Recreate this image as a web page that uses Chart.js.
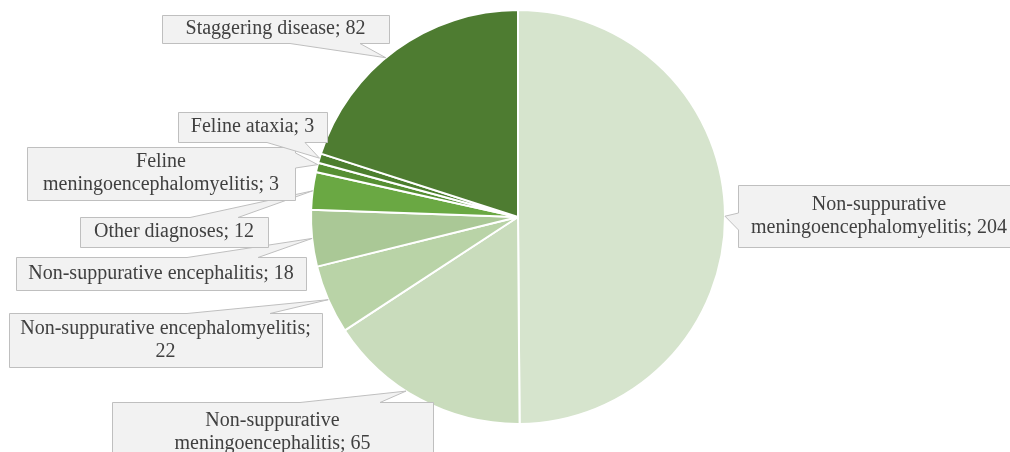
<!DOCTYPE html>
<html>
<head>
<meta charset="utf-8">
<script src="https://cdn.jsdelivr.net/npm/chart.js@4/dist/chart.umd.min.js"></script>
<style>
  html, body { margin: 0; padding: 0; background: #fff; }
  #chart { display: block; }
</style>
</head>
<body>
<canvas id="chart" width="1010" height="452"></canvas>
<script>
// diagnoses, clockwise from 12 o'clock
var labels = [
  "Non-suppurative meningoencephalomyelitis",
  "Non-suppurative meningoencephalitis",
  "Non-suppurative encephalomyelitis",
  "Non-suppurative encephalitis",
  "Other diagnoses",
  "Feline meningoencephalomyelitis",
  "Feline ataxia",
  "Staggering disease"
];
var values = [204, 65, 22, 18, 12, 3, 3, 82];
var colors = ['#d6e4cd', '#c9dcbc', '#b9d3a7', '#aac896', '#6aa843', '#568f33', '#4c7e2e', '#4e7c31'];

// text shown in each callout (line breaks like the original)
var calloutText = [
  ["Non-suppurative", "meningoencephalomyelitis; 204"],
  ["Non-suppurative", "meningoencephalitis; 65"],
  ["Non-suppurative encephalomyelitis;", "22"],
  ["Non-suppurative encephalitis; 18"],
  ["Other diagnoses; 12"],
  ["Feline", "meningoencephalomyelitis; 3"],
  ["Feline ataxia; 3"],
  ["Staggering disease; 82"]
];

// callout box placement: box x0,y0,x1,y1, side the wedge leaves from, wedge base a,b, where along the slice it points
var boxes = [
  {b: [738, 185, 1020, 247], side: 'left',   w: [213, 230], f: 0.5},
  {b: [112, 402, 433, 466],  side: 'top',    w: [300, 380], f: 0.58},
  {b: [9, 313, 322, 367],    side: 'top',    w: [187, 270], f: 0.5},
  {b: [16, 257, 306, 290],   side: 'top',    w: [187, 258], f: 0.5},
  {b: [80, 217, 268, 247],   side: 'top',    w: [190, 238], f: 0.5},
  {b: [27, 147, 295, 200],   side: 'right',  w: [153, 168], f: 0.8},
  {b: [178, 112, 327, 142],  side: 'bottom', w: [267, 305], f: 0.5},
  {b: [162, 15, 389, 43],    side: 'bottom', w: [290, 360], f: 0.45}
];

var calloutPlugin = {
  id: 'callouts',
  afterDraw: function(chart) {
    var ctx = chart.ctx;
    var arcs = chart.getDatasetMeta(0).data;
    ctx.save();
    ctx.font = '20px "Liberation Serif", "Times New Roman", serif';
    ctx.textAlign = 'center';
    ctx.textBaseline = 'middle';
    for (var i = 0; i < arcs.length; i++) {
      var a = arcs[i].getProps(['x', 'y', 'startAngle', 'endAngle', 'outerRadius'], true);
      var ang = a.startAngle + boxes[i].f * (a.endAngle - a.startAngle);
      var tx = a.x + Math.cos(ang) * a.outerRadius;
      var ty = a.y + Math.sin(ang) * a.outerRadius;
      var b = boxes[i].b, w = boxes[i].w, s = boxes[i].side;
      var x0 = b[0] + 0.5, y0 = b[1] + 0.5, x1 = b[2] + 0.5, y1 = b[3] + 0.5;

      ctx.beginPath();
      ctx.moveTo(x0, y0);
      if (s == 'top') { ctx.lineTo(w[0], y0); ctx.lineTo(tx, ty); ctx.lineTo(w[1], y0); }
      ctx.lineTo(x1, y0);
      if (s == 'right') { ctx.lineTo(x1, w[0]); ctx.lineTo(tx, ty); ctx.lineTo(x1, w[1]); }
      ctx.lineTo(x1, y1);
      if (s == 'bottom') { ctx.lineTo(w[1], y1); ctx.lineTo(tx, ty); ctx.lineTo(w[0], y1); }
      ctx.lineTo(x0, y1);
      if (s == 'left') { ctx.lineTo(x0, w[1]); ctx.lineTo(tx, ty); ctx.lineTo(x0, w[0]); }
      ctx.closePath();
      ctx.fillStyle = '#f2f2f2';
      ctx.fill();
      ctx.strokeStyle = '#bfbfbf';
      ctx.lineWidth = 1;
      ctx.stroke();

      var lines = calloutText[i];
      var cx = (b[0] + b[2]) / 2;
      var lh = 23;
      var top = (b[1] + b[3]) / 2 - (lines.length - 1) * lh / 2;
      if (i == 1) top = 421; // box runs off the bottom edge
      ctx.fillStyle = '#404040';
      for (var k = 0; k < lines.length; k++) {
        ctx.fillText(lines[k], cx, top + k * lh);
      }
    }
    ctx.restore();
  }
};

new Chart(document.getElementById('chart'), {
  type: 'pie',
  data: {
    labels: labels,
    datasets: [{
      data: values,
      backgroundColor: colors,
      borderColor: '#ffffff',
      borderWidth: 2
    }]
  },
  options: {
    responsive: false,
    animation: false,
    layout: { padding: { left: 26, right: 0, top: 9, bottom: 27 } },
    plugins: {
      legend: { display: false },
      tooltip: { enabled: false }
    }
  },
  plugins: [calloutPlugin]
});
</script>
</body>
</html>
